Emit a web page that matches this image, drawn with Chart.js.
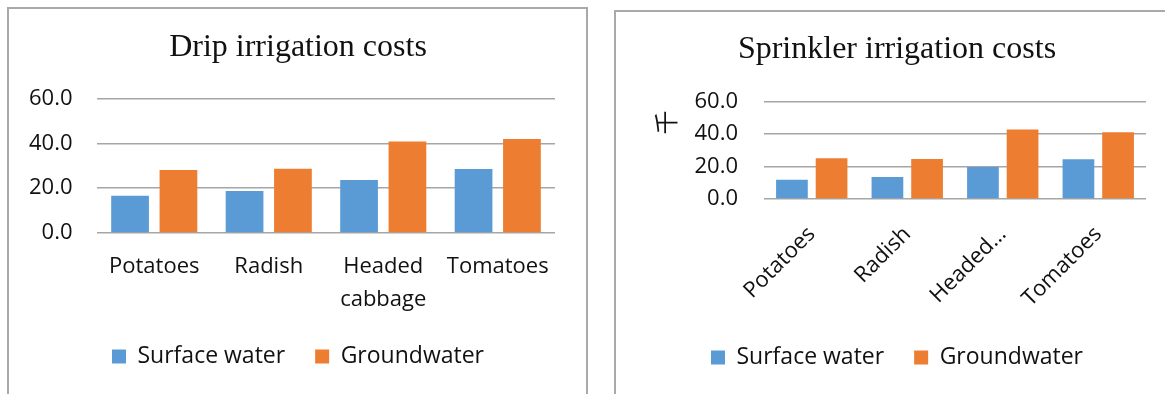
<!DOCTYPE html>
<html>
<head>
<meta charset="utf-8">
<title>Irrigation costs</title>
<script src="https://cdn.jsdelivr.net/npm/chart.js@4.4.1/dist/chart.umd.min.js"></script>
<style>
  html, body { margin: 0; padding: 0; background: #fff; overflow: hidden; }
  body { width: 1165px; height: 394px; position: relative; }
  .panel { position: absolute; border: 2px solid #a9a9a9; border-bottom: none; }
  #dripPanel { left: 7px; top: 7px; width: 577px; height: 400px; }
  #sprinklerPanel { left: 614px; top: 10px; width: 600px; height: 400px; }
  canvas { display: block; }
</style>
</head>
<body>
<div class="panel" id="dripPanel"><canvas id="dripChart" width="577" height="385"></canvas></div>
<div class="panel" id="sprinklerPanel"><canvas id="sprinklerChart" width="549" height="382"></canvas></div>

<script>
const categories = ['Potatoes', 'Radish', 'Headed cabbage', 'Tomatoes'];
const seriesNames = ['Surface water', 'Groundwater'];

// values
const dripSurface = [16.6, 18.7, 23.6, 28.5];
const dripGround = [28.1, 28.6, 40.8, 41.9];
const sprinklerSurface = [11.8, 13.6, 19.6, 24.4];
const sprinklerGround = [25.0, 24.6, 42.7, 41.1];

const yMin = 0;
const yMax = 60;
const yStep = 20;

const BLUE = '#5b9bd5';
const ORANGE = '#ed7d31';
const TEXT = '#111111';
const GRID = '#a6a6a6';
const SANS = "'Open Sans', sans-serif";
const SERIF = "'Liberation Serif', 'Times New Roman', serif";

// draws the rotated unit text next to the y axis (Excel puts it near the top)
function unitLabel(text, dx, dy) {
    return {
        id: 'unitLabel',
        afterDraw(chart) {
            const {ctx, chartArea} = chart;
            ctx.save();
            ctx.translate(chartArea.left + dx, chartArea.top + dy);
            ctx.rotate(-Math.PI / 2);
            ctx.font = "24px 'Noto Sans CJK SC'";
            ctx.fillStyle = TEXT;
            ctx.textAlign = 'center';
            ctx.textBaseline = 'middle';
            ctx.fillText(text, 0, 0);
            ctx.restore();
        }
    };
}

function makeChart(id, cfg) {
    const ctx = document.getElementById(id).getContext('2d');
    return new Chart(ctx, {
        type: 'bar',
        data: {
            labels: categories,
            datasets: [{
                label: seriesNames[0],
                data: cfg.surface,
                backgroundColor: BLUE,
                borderWidth: 0,
                barPercentage: cfg.barPct,
                categoryPercentage: cfg.catPct
            }, {
                label: seriesNames[1],
                data: cfg.ground,
                backgroundColor: ORANGE,
                borderWidth: 0,
                barPercentage: cfg.barPct,
                categoryPercentage: cfg.catPct
            }]
        },
        plugins: cfg.plugins || [],
        options: {
            responsive: false,
            animation: false,
            layout: {
                padding: cfg.padding
            },
            plugins: {
                title: {
                    display: true,
                    text: cfg.title,
                    color: TEXT,
                    font: { family: SERIF, size: 32, weight: 'normal', lineHeight: 1.2 },
                    padding: cfg.titlePadding
                },
                legend: {
                    position: 'bottom',
                    labels: {
                        color: TEXT,
                        font: { family: SANS, size: 23 },
                        boxWidth: 14,
                        boxHeight: 14,
                        padding: 30
                    }
                },
                tooltip: { enabled: false }
            },
            scales: {
                x: {
                    grid: { display: false, drawTicks: false },
                    border: { display: false },
                    afterFit: scale => { scale.height = cfg.xHeight; },
                    ticks: {
                        color: TEXT,
                        font: { family: SANS, size: 22, lineHeight: 1.5 },
                        padding: cfg.xPad,
                        minRotation: cfg.rotation,
                        maxRotation: cfg.rotation,
                        autoSkip: false,
                        callback: cfg.xLabel
                    }
                },
                y: {
                    min: yMin,
                    max: yMax,
                    grid: { color: GRID, lineWidth: 1.5, drawTicks: false },
                    border: { display: false },
                    afterFit: scale => { scale.width = cfg.yWidth; },
                    ticks: {
                        stepSize: yStep,
                        color: TEXT,
                        font: { family: SANS, size: 22 },
                        padding: cfg.yPad,
                        // mirror keeps the labels from being clipped to a narrow axis box
                        mirror: !!cfg.yMirror,
                        crossAlign: cfg.yMirror ? 'far' : 'near',
                        callback: value => value.toFixed(1)
                    }
                }
            }
        }
    });
}

const dripChart = makeChart('dripChart', {
    title: 'Drip irrigation costs',
    surface: dripSurface,
    ground: dripGround,
    barPct: 0.78,
    catPct: 0.845,
    padding: { left: 32, right: 31, top: 0, bottom: 16 },
    titlePadding: { top: 19, bottom: 32 },
    xHeight: 82,
    xPad: 17,
    rotation: 0,
    // long names go on two lines
    xLabel: (value, i) => categories[i].split(' '),
    yWidth: 56,
    yMirror: true,
    yPad: -68
});

const sprinklerChart = makeChart('sprinklerChart', {
    title: 'Sprinkler irrigation costs',
    surface: sprinklerSurface,
    ground: sprinklerGround,
    barPct: 0.8,
    catPct: 0.83,
    padding: { left: 32, right: 19, top: 0, bottom: 15 },
    titlePadding: { top: 18, bottom: 33 },
    xHeight: 117,
    xPad: 20,
    rotation: 45,
    // Excel cuts the long name short here
    xLabel: (value, i) => categories[i].length > 8 ? categories[i].split(' ')[0] + '\u2026' : categories[i],
    yWidth: 116,
    yPad: 26,
    plugins: [unitLabel('千', -98, 21)]
});
</script>
</body>
</html>
